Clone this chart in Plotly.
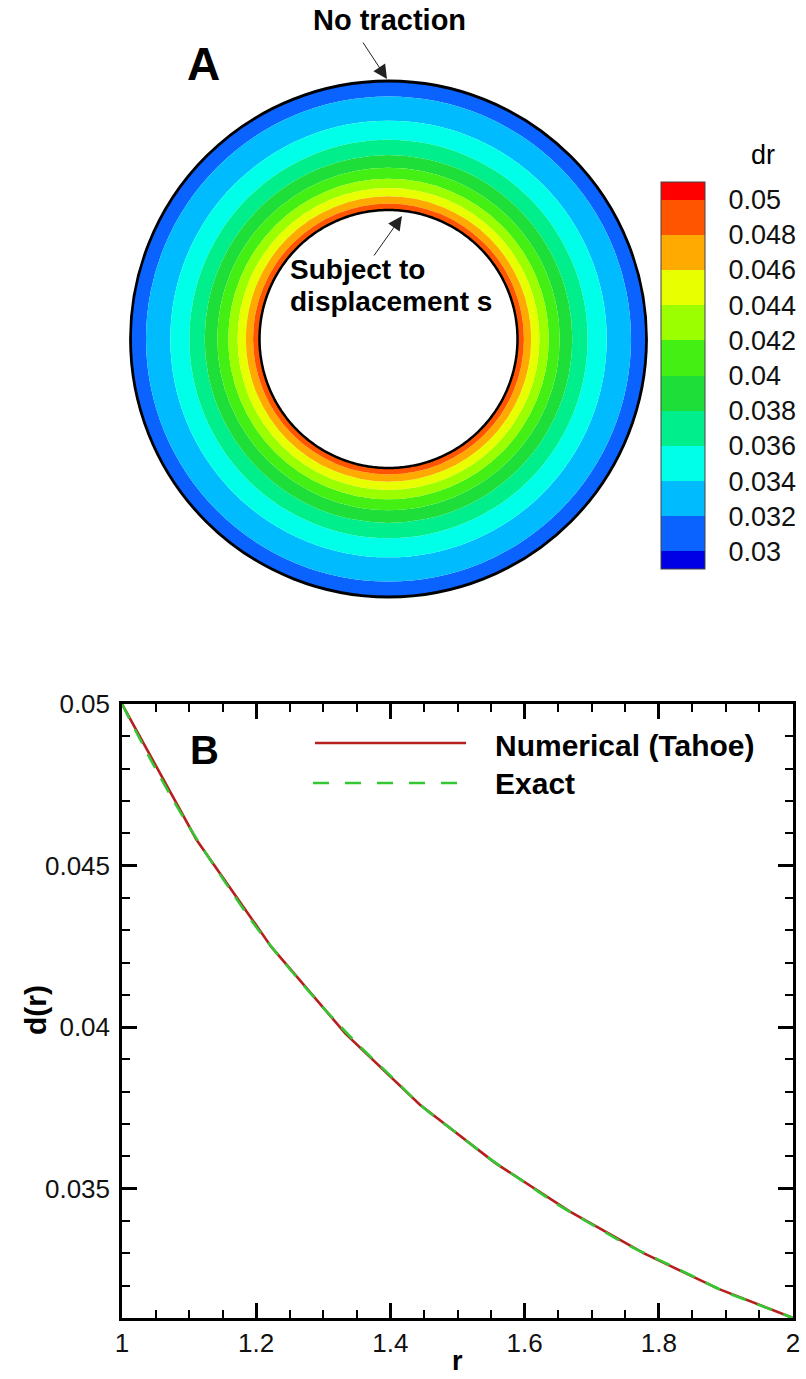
import numpy as np
import plotly.graph_objects as go

# ---------------- Panel B data ----------------
r_exact = [1.00, 1.05, 1.10, 1.15, 1.20, 1.25, 1.30, 1.35, 1.40, 1.45, 1.50,
           1.55, 1.60, 1.65, 1.70, 1.75, 1.80, 1.85, 1.90, 1.95, 2.00]
d_exact = [0.0500, 0.0480, 0.0462, 0.0446, 0.0431, 0.0418, 0.0406, 0.0395, 0.0385, 0.0375, 0.0367,
           0.0359, 0.0352, 0.0345, 0.0339, 0.0333, 0.0328, 0.0323, 0.0318, 0.0314, 0.0310]

r_num = [1.000, 1.111, 1.222, 1.333, 1.444, 1.556, 1.667, 1.778, 1.889, 2.000]
d_num = [0.0500, 0.0458, 0.0425, 0.0398, 0.0376, 0.0358, 0.0343, 0.0330, 0.0319, 0.0310]

x_ticks = [1, 1.2, 1.4, 1.6, 1.8, 2]
y_ticks = [0.035, 0.04, 0.045, 0.05]
y_ticktext = ["0.035", "0.04", "0.045", "0.05"]

# ---------------- Panel A colour levels ----------------
levels = [0.030, 0.032, 0.034, 0.036, 0.038, 0.040, 0.042, 0.044, 0.046, 0.048, 0.050]
level_labels = ["0.03", "0.032", "0.034", "0.036", "0.038", "0.04",
                "0.042", "0.044", "0.046", "0.048", "0.05"]
band_colors = ["#0000E6", "#0A62FF", "#00BCFF", "#00FFE8", "#00EE8C", "#1EDE3A",
               "#44F014", "#9CFF00", "#E8FF00", "#FFAA00", "#FF5500", "#FF0000"]

FONT = "Liberation Sans, Arial, sans-serif"
W, H = 806, 1379


def px(x):
    return x / W


def py(y):
    return 1 - y / H


# band radii from the d(r) data
d_inc = d_exact[::-1]
r_inc = r_exact[::-1]
dmin, dmax = min(d_exact), max(d_exact)
edges = [-np.inf] + levels + [np.inf]
bases, thick, cvals = [], [], []
for k in range(len(edges) - 1):
    lo, hi = edges[k], edges[k + 1]
    r_in = float(np.interp(min(hi, dmax), d_inc, r_inc))
    r_out = float(np.interp(max(lo, dmin), d_inc, r_inc))
    if r_out - r_in > 1e-6:
        bases.append(r_in)
        thick.append(r_out - r_in)
        mid = (max(lo, levels[0] - 0.001) + min(hi, levels[-1] + 0.001)) / 2
        cvals.append(mid)

cmin, cmax = levels[0] - 0.001, levels[-1] + 0.001
cb_edges = [cmin] + levels + [cmax]
colorscale = []
for k, c in enumerate(band_colors):
    a = (cb_edges[k] - cmin) / (cmax - cmin)
    b = (cb_edges[k + 1] - cmin) / (cmax - cmin)
    colorscale.append([a, c])
    colorscale.append([b, c])

fig = go.Figure()

CB_TOP, CB_BOT, CB_X0, CB_X1 = 182, 569, 661, 705
fig.add_trace(go.Barpolar(
    r=thick, base=bases, theta=[0] * len(thick), width=[360] * len(thick),
    marker=dict(color=cvals, colorscale=colorscale, cmin=cmin, cmax=cmax,
                line=dict(width=0),
                colorbar=dict(
                    tickvals=levels, ticktext=level_labels,
                    tickfont=dict(family=FONT, size=27, color="#111"),
                    ticks="outside", ticklen=18, tickcolor="rgba(0,0,0,0)",
                    outlinewidth=1, outlinecolor="#444",
                    thickness=CB_X1 - CB_X0, lenmode="pixels", len=CB_BOT - CB_TOP,
                    x=px(CB_X0), xanchor="left", y=py((CB_TOP + CB_BOT) / 2),
                    yanchor="middle", xpad=0, ypad=0)),
    subplot="polar", showlegend=False, hoverinfo="skip"))

theta_c = np.linspace(0, 360, 361)
fig.add_trace(go.Scatterpolar(
    r=[r_exact[0]] * len(theta_c), theta=theta_c, mode="lines",
    line=dict(color="black", width=2.5), subplot="polar",
    showlegend=False, hoverinfo="skip"))

# ---------------- Panel B traces ----------------
fig.add_trace(go.Scatter(x=r_num, y=d_num, mode="lines", name="Numerical (Tahoe)",
                         line=dict(color="#B4201E", width=2.6), showlegend=False))
fig.add_trace(go.Scatter(x=r_exact, y=d_exact, mode="lines", name="Exact",
                         line=dict(color="#34C734", width=2.6, dash="16px,12px"),
                         line_shape="spline", showlegend=False))

cx, cy, R = 388.5, 339, 258
fig.update_layout(
    width=W, height=H, margin=dict(l=0, r=0, t=0, b=0, autoexpand=False),
    paper_bgcolor="white", plot_bgcolor="white",
    font=dict(family=FONT, color="black"),
    polar=dict(
        domain=dict(x=[px(cx - R), px(cx + R)], y=[py(cy + R), py(cy - R)]),
        bgcolor="rgba(0,0,0,0)",
        radialaxis=dict(range=[0, r_exact[-1]], visible=False, showgrid=False),
        angularaxis=dict(showline=True, linecolor="black", linewidth=2.8,
                         showgrid=False, showticklabels=False, ticks=""),
    ),
    xaxis=dict(domain=[px(122), px(793)], range=[1, 2], tickvals=x_ticks,
               ticks="inside", ticklen=15, tickwidth=2.5, tickcolor="black",
               minor=dict(dtick=0.05, ticks="inside", ticklen=8, tickwidth=1.5,
                          tickcolor="black"),
               showline=True, linewidth=2.5, linecolor="black", mirror="allticks",
               showgrid=False, zeroline=False, automargin=False,
               tickfont=dict(family=FONT, size=26, color="#111"), ticklabelstandoff=0),
    yaxis=dict(domain=[py(1318), py(704)], range=[0.031, 0.05],
               tickvals=y_ticks, ticktext=y_ticktext,
               ticks="inside", ticklen=15, tickwidth=2.5, tickcolor="black",
               minor=dict(dtick=0.001, tick0=0.031, ticks="inside", ticklen=8,
                          tickwidth=1.5, tickcolor="black"),
               showline=True, linewidth=2.5, linecolor="black", mirror="allticks",
               showgrid=False, zeroline=False, automargin=False,
               tickfont=dict(family=FONT, size=26, color="#111"), ticklabelstandoff=4),
)

ann = []


def text(x, y, s, size, bold=True, xanchor="center", angle=0):
    ann.append(dict(x=px(x), y=py(y), xref="paper", yref="paper", showarrow=False,
                    text=f"<b>{s}</b>" if bold else s, xanchor=xanchor, yanchor="middle",
                    textangle=angle,
                    font=dict(family=FONT, size=size, color="black")))


text(389, 20, "No traction", 29)
text(203, 64, "A", 46)
text(288, 270, "Subject to", 28, xanchor="left")
text(288, 301, "displacement s", 28, xanchor="left")
text(763, 155, "dr", 27, bold=False)
text(204, 750, "B", 40)
text(493, 745, "Numerical (Tahoe)", 30, xanchor="left")
text(493, 783, "Exact", 30, xanchor="left")
text(35, 1010, "d(r)", 30, angle=-90)
text(457, 1361, "r", 27)

# arrows
ann.append(dict(x=px(387), y=py(79), xref="paper", yref="paper", text="",
                showarrow=True, ax=-25, ay=-38, arrowhead=2, arrowsize=2.8,
                arrowwidth=1.0, arrowcolor="#222", standoff=0))
ann.append(dict(x=px(402), y=py(216), xref="paper", yref="paper", text="",
                showarrow=True, ax=-29, ay=41, arrowhead=2, arrowsize=2.8,
                arrowwidth=1.0, arrowcolor="#222", standoff=0))

fig.update_layout(annotations=ann)

# thin separators between colour-bar blocks
step = (CB_BOT - CB_TOP) / (cmax - cmin)
for lv in levels:
    yy = CB_TOP + (cmax - lv) * step
    fig.add_shape(type="line", xref="paper", yref="paper", x0=px(CB_X0), x1=px(CB_X1),
                  y0=py(yy), y1=py(yy), line=dict(color="#555", width=0.8))

# manual legend samples
fig.add_shape(type="line", xref="paper", yref="paper", x0=px(315), x1=px(466),
              y0=py(743), y1=py(743), line=dict(color="#B4201E", width=2.6))
fig.add_shape(type="line", xref="paper", yref="paper", x0=px(313), x1=px(466),
              y0=py(783), y1=py(783), line=dict(color="#34C734", width=2.6, dash="16px,16px"))

fig.write_html("out.html")
